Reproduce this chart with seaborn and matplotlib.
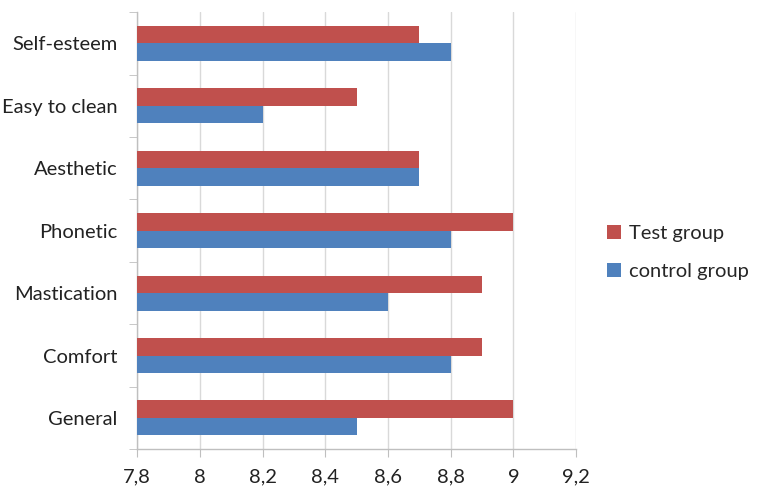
import matplotlib
matplotlib.use("Agg")
import matplotlib.pyplot as plt
import matplotlib.ticker as mticker
import seaborn as sns
import pandas as pd

# values
categories = ["Self-esteem", "Easy to clean", "Aesthetic", "Phonetic",
              "Mastication", "Comfort", "General"]
test_group = [8.7, 8.5, 8.7, 9.0, 8.9, 8.9, 9.0]
control_group = [8.8, 8.2, 8.7, 8.8, 8.6, 8.8, 8.5]
groups = ["Test group", "control group"]
colors = ["#C0504D", "#4F81BD"]
x_ticks = [7.8, 8.0, 8.2, 8.4, 8.6, 8.8, 9.0, 9.2]

df = pd.DataFrame({
    "category": categories * 2,
    "group": [groups[0]] * len(categories) + [groups[1]] * len(categories),
    "score": test_group + control_group,
})

sns.set_style("white")
plt.rcParams["font.family"] = ["Lato", "DejaVu Sans"]

fig = plt.figure(figsize=(7.62, 5.03), dpi=100)
ax = fig.add_axes([0.18, 0.107, 0.576, 0.869])

sns.barplot(data=df, y="category", x="score", hue="group", order=categories,
            hue_order=groups, palette=colors, orient="h", width=0.56,
            gap=0, saturation=1, linewidth=0, ax=ax, zorder=3)

ax.set_xlim(7.8, 9.2)
ax.set_ylim(len(categories) - 0.5, -0.5)
ax.set_xticks(x_ticks)
ax.xaxis.set_major_formatter(mticker.FuncFormatter(
    lambda v, p: ("%g" % round(v, 1)).replace(".", ",")))
ax.grid(axis="x", color="#d9d9d9", linewidth=1, zorder=0)
ax.set_axisbelow(True)

for s in ["top", "right"]:
    ax.spines[s].set_visible(False)
for s in ["left", "bottom"]:
    ax.spines[s].set_color("#bfbfbf")
    ax.spines[s].set_linewidth(1)

ax.tick_params(axis="x", bottom=True, length=6, color="#bfbfbf",
               labelsize=14.5, pad=8, labelcolor="#222222")
ax.tick_params(axis="y", which="major", left=False, length=0,
               labelsize=14.5, pad=14, labelcolor="#222222")
ax.set_yticks([i + 0.5 for i in range(-1, len(categories))], minor=True)
ax.tick_params(axis="y", which="minor", left=True, length=6, color="#bfbfbf")

ax.set_xlabel("")
ax.set_ylabel("")

handles, labels = ax.get_legend_handles_labels()
ax.legend(handles, labels, loc="center left", bbox_to_anchor=(1.03, 0.45),
          frameon=False, fontsize=14.5, handlelength=0.7, handleheight=0.7,
          handletextpad=0.35, labelspacing=1.05)

fig.savefig("out.png", dpi=100)
